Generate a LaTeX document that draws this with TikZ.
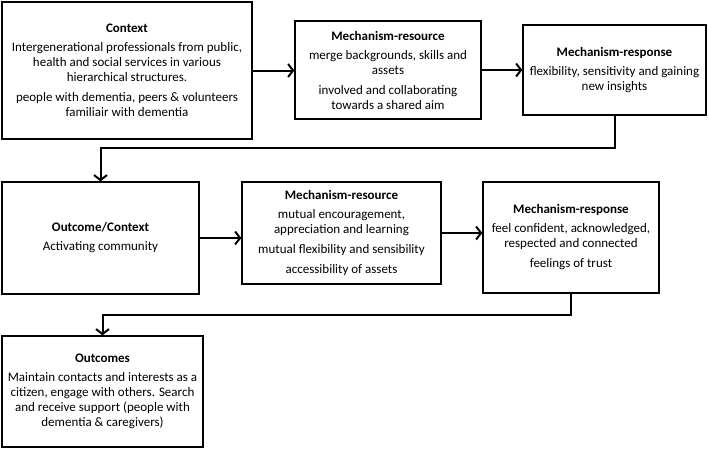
\documentclass[tikz,border=0pt]{standalone}
\usepackage{fontspec}
\setmainfont{Carlito}
\usetikzlibrary{arrows.meta}
\begin{document}
\begin{tikzpicture}[x=1pt,y=-1pt,
  box/.style={draw, line width=1.3pt, align=center, inner sep=0pt,
    font=\fontsize{13}{15}\selectfont},
  conn/.style={line width=2pt, -{Straight Barb[length=5pt,width=13pt,line width=2pt]}}]
\useasboundingbox (0,0) rectangle (709,448);
\node[box, minimum width=250, minimum height=137] (ctx) at (127,70.5)
  {\textbf{Context}\\[4pt]
   Intergenerational professionals from public,\\
   health and social services in various\\
   hierarchical structures.\\[5pt]
   people with dementia, peers \& volunteers\\
   familiair with dementia};
\node[box, minimum width=186, minimum height=98] (mr1) at (388,70)
  {\textbf{Mechanism-resource}\\[4pt]
   merge backgrounds, skills and\\
   assets\\[5pt]
   involved and collaborating\\
   towards a shared aim};
\node[box, minimum width=183, minimum height=90] (rs1) at (614.5,70)
  {\textbf{Mechanism-response}\\[4pt]
   flexibility, sensitivity and gaining\\
   new insights};
\node[box, minimum width=197, minimum height=112] (oc) at (100.5,238)
  {\textbf{Outcome/Context}\\[4pt]
   Activating community};
\node[box, minimum width=199, minimum height=102] (mr2) at (341.5,233)
  {\textbf{Mechanism-resource}\\[4pt]
   mutual encouragement,\\
   appreciation and learning\\[5pt]
   mutual flexibility and sensibility\\[5pt]
   accessibility of assets};
\node[box, minimum width=176, minimum height=111] (rs2) at (571,237.5)
  {\textbf{Mechanism-response}\\[4pt]
   feel confident, acknowledged,\\
   respected and connected\\[5pt]
   feelings of trust};
\node[box, minimum width=201, minimum height=111] (out) at (102.5,391.5)
  {\textbf{Outcomes}\\[4pt]
   Maintain contacts and interests as a\\
   citizen, engage with others. Search\\
   and receive support (people with\\
   dementia \& caregivers)};
\draw[conn] (ctx.east) -- (ctx.east -| mr1.west);
\draw[conn] (mr1.east) -- (mr1.east -| rs1.west);
\draw[conn] (rs1.south) -- ++(0,32) -| (oc.north);
\draw[conn] (oc.east) -- (oc.east -| mr2.west);
\draw[conn] (mr2.east) -- (mr2.east -| rs2.west);
\draw[conn] (rs2.south) -- ++(0,21) -| (out.north);
\end{tikzpicture}
\end{document}
